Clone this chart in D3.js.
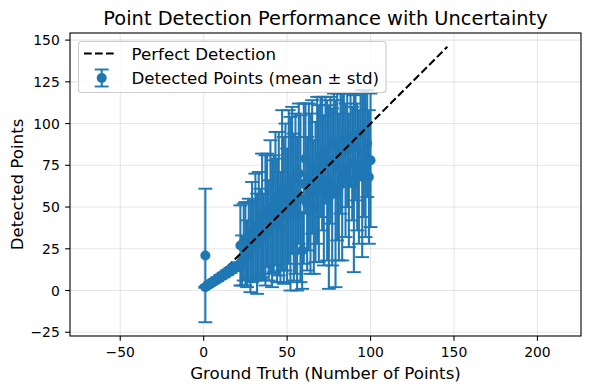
<!DOCTYPE html>
<html><head><meta charset="utf-8">
<script src="https://cdn.jsdelivr.net/npm/d3@7"></script>
<style>
body{margin:0;background:#fff}
svg{display:block}
text{font-family:"DejaVu Sans",sans-serif;fill:#000}
</style>
</head><body>
<svg id="chart" width="590" height="390"></svg>
<script>
// ---- data ----
const groundTruth = [1,
  1,2,3,4,5,6,7,8,9,10,11,12,13,14,15,16,17,18,19,20,21,
  22,23,24,25,26,27,28,29,30,31,32,33,34,35,36,37,38,39,40,
  41,42,43,44,45,46,47,48,49,50,51,52,53,54,55,56,57,58,59,60,
  61,62,63,64,65,66,67,68,69,70,71,72,73,74,75,76,77,78,79,80,
  81,82,83,84,85,86,87,88,89,90,91,92,93,94,95,96,97,98,99,100];
const detectedMean = [21,
  2.0,2.7,3.3,4.1,4.7,5.4,6.1,6.7,7.3,8.1,8.7,9.3,10.1,10.7,11.4,12.0,12.8,13.3,14.1,14.7,15.4,
  27,18,29,28,22,31,26,35,30,38,28,40,34,45,32,42,48,36,50,
  40,46,55,42,52,38,60,48,56,45,62,52,66,50,58,46,70,55,24,64,
  79,52,68,58,74,50,59,72,64,80,76,60,84,66,56,78,62,88,58,74,
  62,82,68,90,72,84,66,92,76,64,86,74,68,94,70,82,76,88,68,78];
const detectedStd = [40,
  0.4,0.6,0.5,0.8,0.7,1.0,0.9,1.1,0.8,1.2,1.0,1.3,1.1,1.4,1.2,1.5,1.3,1.6,1.4,1.7,1.5,
  24,15,23,25,20,24,27,30,24,32,30,31,27,37,26,39,34,30,40,
  38,35,40,37,43,33,48,44,44,40,46,52,44,44,48,46,42,50,23,48,
  33,40,44,48,40,40,42,44,47,36,40,45,32,48,55,38,47,30,56,44,
  44,36,50,28,40,34,40,26,34,53,32,38,40,24,50,38,44,32,40,40];
const perfectLine = [0, 146];
const xTicks = [-50, 0, 50, 100, 150, 200];
const yTicks = [-25, 0, 25, 50, 75, 100, 125, 150];
const xLimits = [-80.1, 226.1];
const yLimits = [-27.25, 154.25];

const title = "Point Detection Performance with Uncertainty";
const xLabel = "Ground Truth (Number of Points)";
const yLabel = "Detected Points";
const legendLabels = ["Perfect Detection", "Detected Points (mean \u00b1 std)"];

// ---- layout ----
const svg = d3.select("#chart");
const L = 70, R = 581, T = 33, B = 336;
const blue = "#1f77b4";
const capW = 6.95;
const x = d3.scaleLinear().domain(xLimits).range([L, R]);
const y = d3.scaleLinear().domain(yLimits).range([B, T]);

const points = groundTruth.map((g, i) => ({g, m: detectedMean[i], s: detectedStd[i]}));
const widePts = points.filter(d => d.s >= 5);
const tightPts = points.filter(d => d.s < 5);

svg.append("defs").append("clipPath").attr("id", "clip")
  .append("rect").attr("x", L).attr("y", T).attr("width", R - L).attr("height", B - T);

// grid
const grid = svg.append("g");
grid.selectAll(".gx").data(xTicks).join("line")
  .attr("x1", d => x(d)).attr("x2", d => x(d)).attr("y1", T).attr("y2", B)
  .attr("stroke", "#b0b0b0").attr("stroke-opacity", 0.3).attr("stroke-width", 1.1);
grid.selectAll(".gy").data(yTicks).join("line")
  .attr("y1", d => y(d)).attr("y2", d => y(d)).attr("x1", L).attr("x2", R)
  .attr("stroke", "#b0b0b0").attr("stroke-opacity", 0.3).attr("stroke-width", 1.1);

const plot = svg.append("g").attr("clip-path", "url(#clip)");

function drawErr(g, data) {
  g.append("g").selectAll("line").data(data).join("line")
    .attr("x1", d => x(d.g)).attr("x2", d => x(d.g))
    .attr("y1", d => y(d.m - d.s)).attr("y2", d => y(d.m + d.s))
    .attr("stroke", blue).attr("stroke-width", 2.08);
  ["lo", "hi"].forEach(k => {
    g.append("g").selectAll("line").data(data).join("line")
      .attr("x1", d => x(d.g) - capW).attr("x2", d => x(d.g) + capW)
      .attr("y1", d => y(k === "lo" ? d.m - d.s : d.m + d.s))
      .attr("y2", d => y(k === "lo" ? d.m - d.s : d.m + d.s))
      .attr("stroke", blue).attr("stroke-width", 1.9);
  });
  g.append("g").selectAll("circle").data(data).join("circle")
    .attr("cx", d => x(d.g)).attr("cy", d => y(d.m)).attr("r", 5)
    .attr("fill", blue);
}

drawErr(plot.append("g"), widePts);

// perfect detection line
plot.append("line")
  .attr("x1", x(perfectLine[0])).attr("y1", y(perfectLine[0]))
  .attr("x2", x(perfectLine[1])).attr("y2", y(perfectLine[1]))
  .attr("stroke", "#000").attr("stroke-width", 2.08)
  .attr("stroke-dasharray", "7.7,3.3");

drawErr(plot.append("g"), tightPts);

// spines
svg.append("rect").attr("x", L).attr("y", T).attr("width", R - L).attr("height", B - T)
  .attr("fill", "none").attr("stroke", "#000").attr("stroke-width", 1.1);

// ticks
const tk = svg.append("g");
tk.selectAll(".xt").data(xTicks).join("line")
  .attr("x1", d => x(d)).attr("x2", d => x(d)).attr("y1", B).attr("y2", B + 4.86)
  .attr("stroke", "#000").attr("stroke-width", 1.1);
tk.selectAll(".xl").data(xTicks).join("text")
  .attr("x", d => x(d)).attr("y", B + 20.5).attr("text-anchor", "middle")
  .attr("font-size", "13.9px").text(d => d < 0 ? "\u2212" + Math.abs(d) : d);
tk.selectAll(".yt").data(yTicks).join("line")
  .attr("y1", d => y(d)).attr("y2", d => y(d)).attr("x1", L - 4.86).attr("x2", L)
  .attr("stroke", "#000").attr("stroke-width", 1.1);
tk.selectAll(".yl").data(yTicks).join("text")
  .attr("x", L - 10.2).attr("y", d => y(d) + 5).attr("text-anchor", "end")
  .attr("font-size", "13.9px").text(d => d < 0 ? "\u2212" + Math.abs(d) : d);

// labels
svg.append("text").attr("x", (L + R) / 2).attr("y", 25).attr("text-anchor", "middle")
  .attr("font-size", "19.4px").text(title);
svg.append("text").attr("x", (L + R) / 2).attr("y", 379).attr("text-anchor", "middle")
  .attr("font-size", "16.67px").text(xLabel);
svg.append("text").attr("transform", `translate(22.5,${(T + B) / 2}) rotate(-90)`)
  .attr("text-anchor", "middle").attr("font-size", "16.67px").text(yLabel);

// legend
const lg = svg.append("g");
lg.append("rect").attr("x", 78.5).attr("y", 41.5).attr("width", 307.5).attr("height", 51)
  .attr("rx", 3).attr("fill", "#fff").attr("fill-opacity", 0.8)
  .attr("stroke", "#cccccc").attr("stroke-width", 1.1);
lg.append("line").attr("x1", 84).attr("x2", 115.5).attr("y1", 53.5).attr("y2", 53.5)
  .attr("stroke", "#000").attr("stroke-width", 2.08).attr("stroke-dasharray", "7.7,3.3");
lg.append("text").attr("x", 131.5).attr("y", 59.5).attr("font-size", "16.67px").text(legendLabels[0]);
lg.append("line").attr("x1", 101.7).attr("x2", 101.7).attr("y1", 69.5).attr("y2", 86.5)
  .attr("stroke", blue).attr("stroke-width", 2.08);
[69.5, 86.5].forEach(v => lg.append("line").attr("x1", 101.7 - capW).attr("x2", 101.7 + capW)
  .attr("y1", v).attr("y2", v).attr("stroke", blue).attr("stroke-width", 1.9));
lg.append("circle").attr("cx", 101.7).attr("cy", 78).attr("r", 5).attr("fill", blue);
lg.append("text").attr("x", 131.5).attr("y", 84).attr("font-size", "16.67px").text(legendLabels[1]);
</script>
</body></html>
